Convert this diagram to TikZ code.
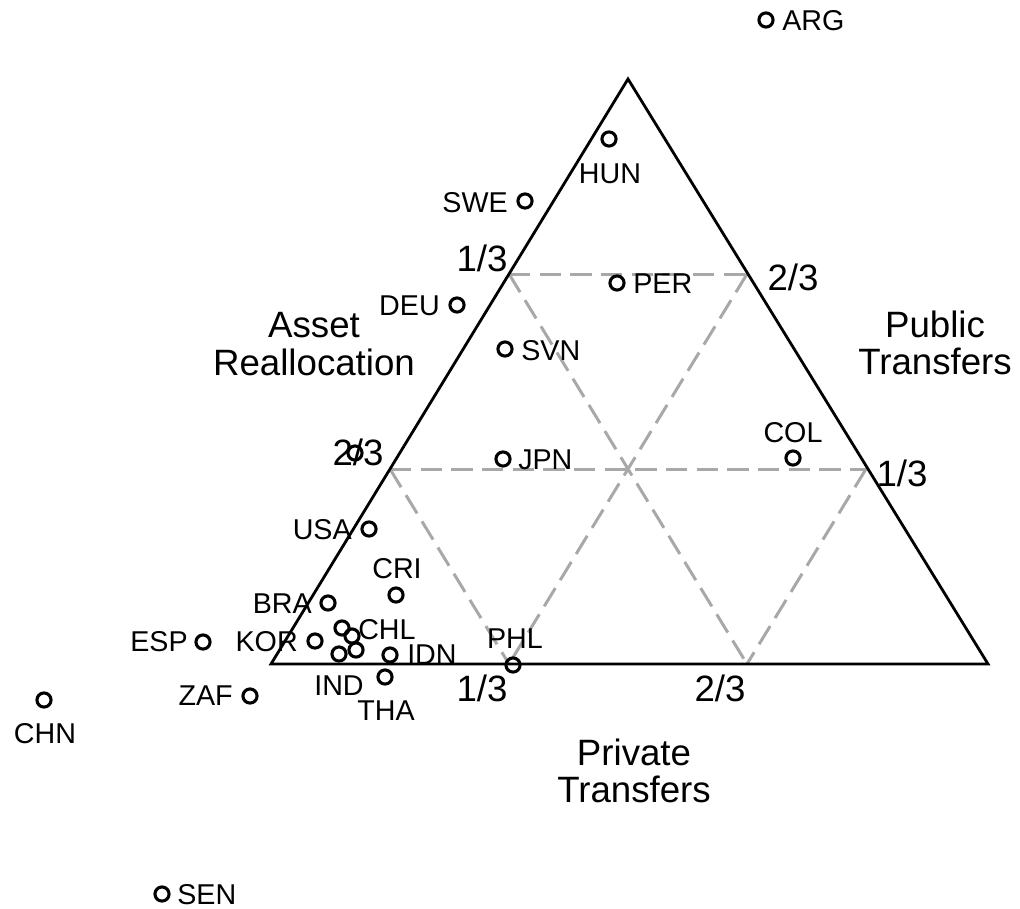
\documentclass[tikz,border=0pt]{standalone}
\usepackage{fontspec}
\setmainfont{Liberation Sans}
\definecolor{gridgray}{RGB}{168,168,168}
\begin{document}
\begin{tikzpicture}[x=0.75pt,y=-0.75pt,
  frame/.style={line width=2.1pt, line join=miter},
  grid/.style={gridgray, line width=2.25pt, dash pattern=on 16pt off 7pt},
  pt/.style={circle, draw, line width=2.3pt, minimum size=10.6pt, inner sep=0pt},
  lab/.style={font=\fontsize{21.5}{21.5}\selectfont, inner sep=0pt},
  tick/.style={font=\fontsize{27.5}{27.5}\selectfont, inner sep=0pt},
  axtitle/.style={font=\fontsize{27.5}{28}\selectfont, align=center, inner sep=0pt}]
\useasboundingbox (0,0) rectangle (1020,909);
% triangle corners
\coordinate (A) at (628,79);
\coordinate (L) at (271,664);
\coordinate (R) at (988,664);
% grid points
\coordinate (l1) at (509,274);
\coordinate (r1) at (747,274);
\coordinate (l2) at (390,469);
\coordinate (r2) at (866,469);
\coordinate (b1) at (509,664);
\coordinate (b2) at (747,664);
% dashed grid
\draw[grid] (l1) -- (r1);
\draw[grid] (l2) -- (r2);
\draw[grid] (l1) -- (b2);
\draw[grid] (r1) -- (b1);
\draw[grid] (l2) -- (b1);
\draw[grid] (r2) -- (b2);
% frame
\draw[frame] (A) -- (L) -- (R) -- cycle;
% tick labels
\node[tick] (t1) at (482,258) {1/3};
\node[tick] (t2) at (358,452) {2/3};
\node[tick] (t3) at (793,277) {2/3};
\node[tick] (t4) at (902,473) {1/3};
\node[tick] (t5) at (482,688) {1/3};
\node[tick] (t6) at (720,688) {2/3};
% axis titles
\node[axtitle] (ax1) at (314,344) {Asset\\Reallocation};
\node[axtitle] (ax2) at (935,343) {Public\\Transfers};
\node[axtitle] (ax3) at (634,771) {Private\\Transfers};
% countries
\node[pt] (ARG) at (766,20) {};
\node[lab, anchor=west] (ARGl) at (782,21) {ARG};
\node[pt] (HUN) at (609,139) {};
\node[lab] (HUNl) at (610,174) {HUN};
\node[pt] (SWE) at (525,201) {};
\node[lab, anchor=east] (SWEl) at (508,203) {SWE};
\node[pt] (DEU) at (457,305) {};
\node[lab, anchor=east] (DEUl) at (440,306) {DEU};
\node[pt] (PER) at (617,283) {};
\node[lab, anchor=west] (PERl) at (633,284) {PER};
\node[pt] (SVN) at (505,349) {};
\node[lab, anchor=west] (SVNl) at (521,351) {SVN};
\node[pt] (JPN) at (503,459) {};
\node[lab, anchor=west] (JPNl) at (518,460) {JPN};
\node[pt] (COL) at (793,458) {};
\node[lab] (COLl) at (793,433) {COL};
\node[pt] (X1) at (355,453) {};
\node[pt] (USA) at (369,529) {};
\node[lab, anchor=east] (USAl) at (352,530) {USA};
\node[pt] (CRI) at (396,595) {};
\node[lab] (CRIl) at (397,569) {CRI};
\node[pt] (BRA) at (328,603) {};
\node[lab, anchor=east] (BRAl) at (312,604) {BRA};
\node[pt] (KOR) at (315,641) {};
\node[lab, anchor=east] (KORl) at (298,642) {KOR};
\node[pt] (CHL1) at (342,628) {};
\node[pt] (CHL2) at (352,636) {};
\node[lab, anchor=west] (CHLl) at (358,630) {CHL};
\node[pt] (IND1) at (339,654) {};
\node[pt] (IND2) at (356,650) {};
\node[lab] (INDl) at (339,686) {IND};
\node[pt] (IDN) at (390,655) {};
\node[lab, anchor=west] (IDNl) at (407,655) {IDN};
\node[pt] (THA) at (385,677) {};
\node[lab] (THAl) at (386,711) {THA};
\node[pt] (PHL) at (513,665) {};
\node[lab] (PHLl) at (515,639) {PHL};
\node[pt] (ESP) at (203,642) {};
\node[lab, anchor=east] (ESPl) at (188,642) {ESP};
\node[pt] (ZAF) at (250,696) {};
\node[lab, anchor=east] (ZAFl) at (233,696) {ZAF};
\node[pt] (CHN) at (44,700) {};
\node[lab] (CHNl) at (45,734) {CHN};
\node[pt] (SEN) at (162,894) {};
\node[lab, anchor=west] (SENl) at (177,895) {SEN};
\end{tikzpicture}
\end{document}
